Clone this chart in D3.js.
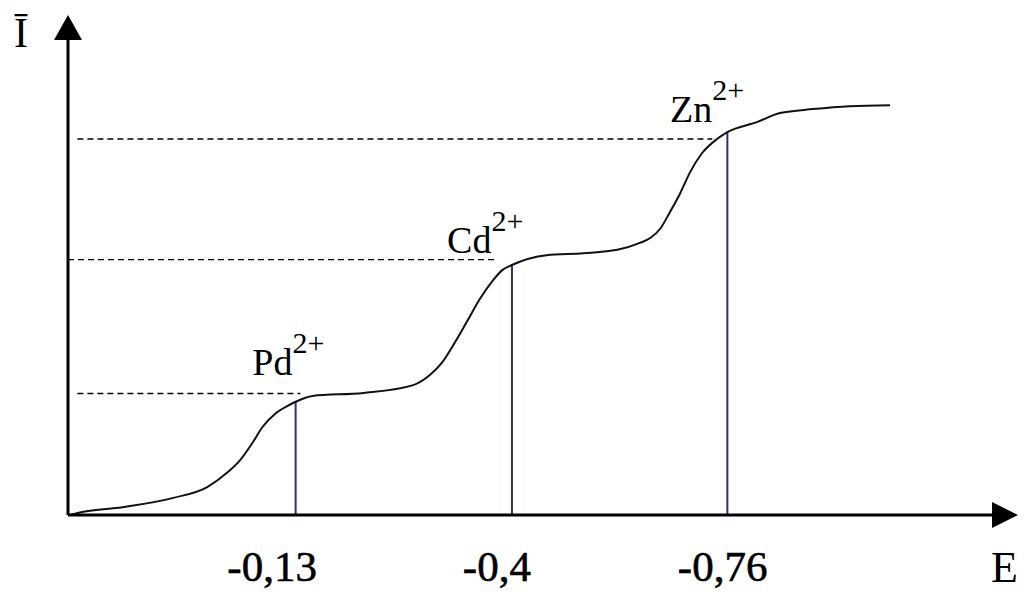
<!DOCTYPE html>
<html>
<head>
<meta charset="utf-8">
<script src="https://cdn.jsdelivr.net/npm/d3@7"></script>
<style>
  body { margin: 0; background: #fff; }
  text { font-family: "Liberation Serif", "DejaVu Serif", "Noto Serif", "Times New Roman", Times, serif; }
</style>
</head>
<body>
<svg id="chart"></svg>
<script>
// polarogram curve, schematic units (x: 0..101, y: 0..102)
const curveX = [0.2, 1.5, 5.8, 11.2, 14.8, 16.9, 18.3, 19.6, 20.7, 22.0, 23.3, 24.2, 26.0, 31.4, 36.7, 38.5, 39.8, 41.1, 42.4, 43.8, 45.2, 46.2, 47.2, 50.9, 54.8, 58.4, 60.8, 61.9, 63.0, 64.0, 65.1, 66.1, 67.4, 69.0, 70.1, 73.3, 75.7, 79.2, 83.1, 87.4];
const curveY = [0, 0.6, 1.6, 3.5, 5.7, 8.6, 11.2, 14.7, 18.0, 20.6, 22.2, 23.1, 24.3, 24.9, 26.5, 28.6, 31.2, 35.1, 39.4, 44.1, 47.9, 50.0, 51.0, 53.0, 53.4, 54.1, 55.5, 56.5, 58.5, 61.8, 65.7, 69.8, 73.8, 76.7, 78.1, 80.2, 82.0, 82.8, 83.4, 83.6];

const ions = ["Pd", "Cd", "Zn"];
const potentials = ["-0,13", "-0,4", "-0,76"];
const stepX = [24.2, 47.2, 70.1];      // half-wave points
const stepTop = [23.1, 51.0, 78.1];    // where vertical line meets curve
const levels = [24.8, 52.1, 76.7];     // dashed limiting currents
const dashStart = [1.0, 0.0, 1.0];
const dashEnd = [24.7, 45.6, 68.5];
const labelX = [19.6, 40.3, 64.0];
const labelY = [28.6, 53.5, 80.2];
const tickLabelX = [21.7, 45.6, 69.6];

const width = 1030, height = 594;
const svg = d3.select("#chart").attr("width", width).attr("height", height);

const x = d3.scaleLinear().domain([0, 101]).range([68, 1018]);
const y = d3.scaleLinear().domain([0, 102]).range([515, 15]);

// dashed lines
svg.selectAll(".dash")
  .data(levels)
  .enter().append("line")
  .attr("x1", (d, i) => x(dashStart[i]))
  .attr("x2", (d, i) => x(dashEnd[i]))
  .attr("y1", d => y(d))
  .attr("y2", d => y(d))
  .attr("stroke", "#000")
  .attr("stroke-width", 1.4)
  .attr("stroke-dasharray", "6,4");

// vertical lines
svg.selectAll(".vline")
  .data(stepX)
  .enter().append("line")
  .attr("x1", d => x(d))
  .attr("x2", d => x(d))
  .attr("y1", y(0))
  .attr("y2", (d, i) => y(stepTop[i]))
  .attr("stroke", "#2e2e7a")
  .attr("stroke-width", 2);

// curve
const pts = curveX.map((v, i) => [v, curveY[i]]);
const line = d3.line().x(d => x(d[0])).y(d => y(d[1])).curve(d3.curveMonotoneX);
svg.append("path")
  .datum(pts)
  .attr("d", line)
  .attr("fill", "none")
  .attr("stroke", "#111")
  .attr("stroke-width", 2);

// axes
const x0 = x(0), y0 = y(0);
svg.append("line")
  .attr("x1", x0).attr("x2", x(99)).attr("y1", y0).attr("y2", y0)
  .attr("stroke", "#000").attr("stroke-width", 3);
svg.append("line")
  .attr("x1", x0).attr("x2", x0).attr("y1", y0).attr("y2", y(98))
  .attr("stroke", "#000").attr("stroke-width", 3);

const xt = x(101);
svg.append("path")
  .attr("d", `M${xt},${y0} L${xt - 26},${y0 - 13} L${xt - 26},${y0 + 13} Z`)
  .attr("fill", "#000");
const yt = y(102);
svg.append("path")
  .attr("d", `M${x0},${yt} L${x0 - 14},${yt + 25} L${x0 + 14},${yt + 25} Z`)
  .attr("fill", "#000");

// axis titles
svg.append("text").attr("x", 14).attr("y", 47).attr("font-size", 42).text("Ī");
svg.append("text").attr("x", 991).attr("y", 582).attr("font-size", 44).text("E");

// tick labels
svg.selectAll(".tick-label")
  .data(potentials)
  .enter().append("text")
  .attr("x", (d, i) => x(tickLabelX[i]))
  .attr("y", 581)
  .attr("text-anchor", "middle")
  .attr("font-size", 43)
  .attr("stroke", "#000")
  .attr("stroke-width", 0.6)
  .text(d => d);

// ion labels
const lab = svg.selectAll(".ion")
  .data(ions)
  .enter().append("text")
  .attr("x", (d, i) => x(labelX[i]))
  .attr("y", (d, i) => y(labelY[i]))
  .attr("font-size", 38);
lab.append("tspan").text(d => d);
lab.append("tspan").attr("dy", -22).attr("font-size", 30).text("2+");
</script>
</body>
</html>
